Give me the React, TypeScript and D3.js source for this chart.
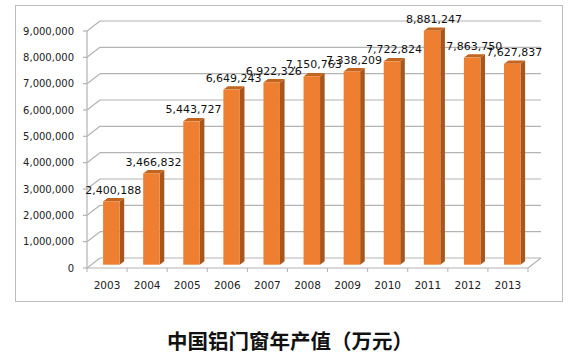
import React from "react";
import * as d3 from "d3";

const years = ["2003","2004","2005","2006","2007","2008","2009","2010","2011","2012","2013"];
const values = [2400188,3466832,5443727,6649243,6922326,7150763,7338209,7722824,8881247,7863750,7627837];
const yTicks = [0,1000000,2000000,3000000,4000000,5000000,6000000,7000000,8000000,9000000];
const title = "中国铝门窗年产值（万元）";

export default function App() {
  const W = 573, H = 361;
  const x = d3.scaleBand<string>().domain(years).range([87, 528]).paddingInner(0).paddingOuter(0);
  const y = d3.scaleLinear().domain([0, 9000000]).range([268, 31]);
  const DX = 13, DY = -10; // wall depth
  const bfx = 4.3, bfy = -3.3; // bar front plane offset
  const bdx = 4.6, bdy = -3.4; // bar depth
  const bw = 16.5;
  const fmt = d3.format(",");
  const grid = "#b3b3b3";
  const xEnd = 528;

  return (
    <svg width={W} height={H} style={{ position: "absolute", left: 0, top: 0, background: "#fff" }}>
      <rect x={15.5} y={5.5} width={547} height={296} fill="#fff" stroke="#bdbdbd" strokeWidth={1} />
      {yTicks.map((t) => (
        <g key={t}>
          <line x1={87 + DX} x2={xEnd + DX} y1={y(t) + DY} y2={y(t) + DY} stroke={grid} strokeWidth={1.2} />
          <line x1={87} x2={87 + DX} y1={y(t)} y2={y(t) + DY} stroke={grid} strokeWidth={1.2} />
          <line x1={83} x2={87} y1={y(t)} y2={y(t)} stroke={grid} strokeWidth={1.2} />
          <text x={74} y={y(t)} dy="0.35em" textAnchor="end" fontFamily="'DejaVu Sans', sans-serif" fontSize={10} fill="#222">
            {fmt(t)}
          </text>
        </g>
      ))}
      <line x1={87} x2={xEnd} y1={y(0)} y2={y(0)} stroke={grid} strokeWidth={1.2} />
      <line x1={xEnd} x2={xEnd + DX} y1={y(0)} y2={y(0) + DY} stroke={grid} strokeWidth={1.2} />
      <line x1={87} x2={87} y1={y(0)} y2={y(9000000)} stroke={grid} strokeWidth={1.2} />
      {years.map((yr) => (
        <line key={yr} x1={(x(yr) as number)} x2={(x(yr) as number)} y1={y(0)} y2={y(0) + 4} stroke={grid} strokeWidth={1} />
      ))}
      <line x1={xEnd} x2={xEnd} y1={y(0)} y2={y(0) + 4} stroke={grid} strokeWidth={1} />
      {years.map((yr) => (
        <text key={yr} x={(x(yr) as number) + x.bandwidth() / 2} y={289} textAnchor="middle" fontFamily="'DejaVu Sans', sans-serif" fontSize={10.5} fill="#222">
          {yr}
        </text>
      ))}
      {values.map((v, i) => {
        const cx = (x(years[i]) as number) + x.bandwidth() / 2 + bfx;
        const x0 = cx - bw / 2, x1 = cx + bw / 2;
        const yb = y(0) + bfy, yt = y(v) + bfy;
        return (
          <g key={i}>
            <polygon points={`${x1},${yt} ${x1 + bdx},${yt + bdy} ${x1 + bdx},${yb + bdy} ${x1},${yb}`} fill="#a9561c" />
            <polygon points={`${x0},${yt} ${x0 + bdx},${yt + bdy} ${x1 + bdx},${yt + bdy} ${x1},${yt}`} fill="#c3641f" />
            <rect x={x0} y={yt} width={bw} height={yb - yt} fill="#ee7f30" />
            <text x={cx + 2} y={yt + bdy - 4.5} textAnchor="middle" fontFamily="'DejaVu Sans', sans-serif" fontSize={11} fill="#111">
              {fmt(v)}
            </text>
          </g>
        );
      })}
      <text x={290} y={349} textAnchor="middle" fontFamily="'Noto Sans CJK SC', sans-serif" fontWeight="bold" fontSize={20.5} fill="#111">
        {title}
      </text>
    </svg>
  );
}
